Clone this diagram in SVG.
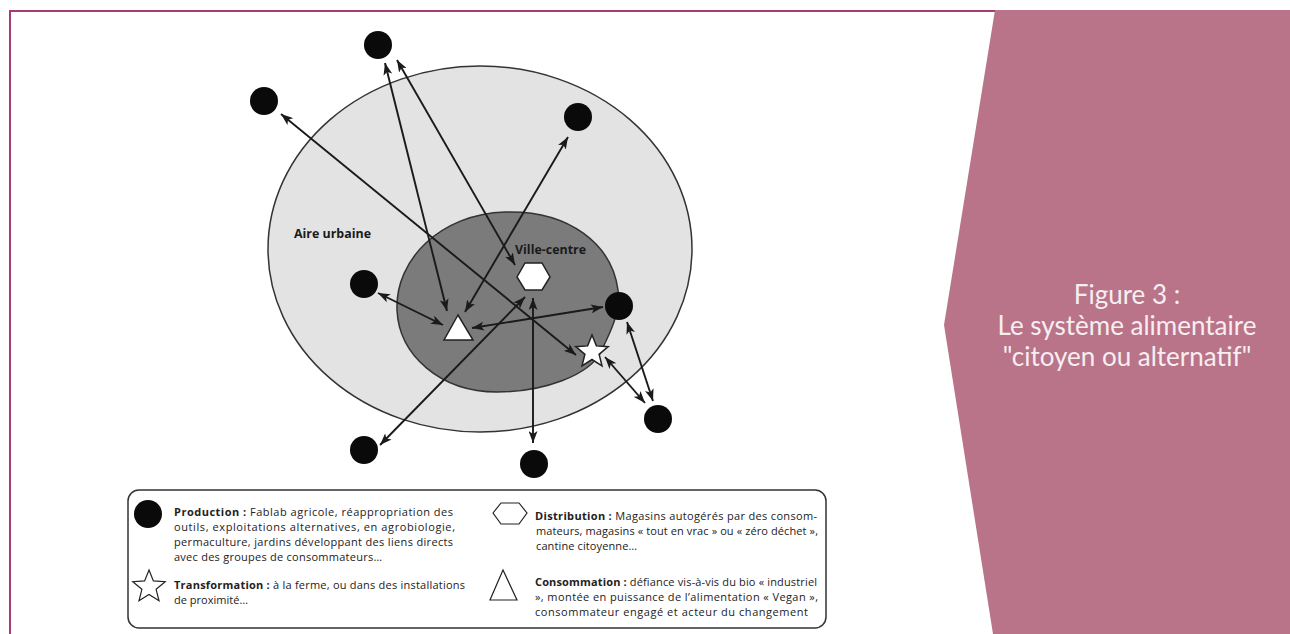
<svg xmlns="http://www.w3.org/2000/svg" xmlns:xlink="http://www.w3.org/1999/xlink" width="1290" height="634" viewBox="0 0 1290 634">
<style>
.prod{fill:#0a0a0a;}
.conn{stroke:#1a1a1a;stroke-width:1.9;fill:none;marker-start:url(#ah);marker-end:url(#ah);}
.zone{font-family:"Open Sans","Liberation Sans",sans-serif;font-weight:700;font-size:12px;fill:#1a1a1a;}
.leg{font-family:"Open Sans","Liberation Sans",sans-serif;font-size:11px;fill:#222;}
.leg .b{font-weight:700;}
.title{font-family:Lato,"Open Sans",sans-serif;font-size:26px;fill:#f7eef1;text-anchor:middle;}
.shape{fill:#fff;stroke:#222;stroke-width:1.5;}
.lshape{fill:#fff;stroke:#222;stroke-width:1.2;}
</style>
<defs>
<marker id="ah" viewBox="0 0 12 9" refX="12" refY="4.5" markerWidth="12" markerHeight="9" markerUnits="userSpaceOnUse" orient="auto-start-reverse">
<path d="M0,0 L12,4.5 L0,9 L3,4.5 Z" fill="#1a1a1a"/>
</marker>
<path id="star" d="M0,-17 L4.4,-6.1 L16.2,-5.3 L7.1,2.3 L10,13.8 L0,7.5 L-10,13.8 L-7.1,2.3 L-16.2,-5.3 L-4.4,-6.1 Z"/>
</defs>
<rect width="1290" height="634" fill="#fff"/>
<!-- frame -->
<path d="M10,634 L10,11 L996,11" fill="none" stroke="#a83b70" stroke-width="2"/>
<!-- right panel -->
<g id="title-panel">
<polygon points="995,10 1290,10 1290,634 993,634 944,325" fill="#b97489"/>
<text class="title" x="1127" y="304">Figure 3 :</text>
<text class="title" x="1127" y="335">Le système alimentaire</text>
<text class="title" x="1127" y="366">"citoyen ou alternatif"</text>
</g>
<!-- zones -->
<g id="aire-urbaine">
<ellipse cx="480" cy="249" rx="212" ry="183" fill="#e3e3e3" stroke="#333" stroke-width="1.5"/>
<text class="zone" x="294" y="238" textLength="77" lengthAdjust="spacingAndGlyphs">Aire urbaine</text>
</g>
<g id="ville-centre">
<path d="M397,310 C395,260 440,214 505,212 C570,210 612,245 618,290 C620,318 608,335 602,350 C590,376 542,392 497,392 C440,392 399,355 397,310 Z" fill="#7b7b7b" stroke="#333" stroke-width="1.5"/>
<text class="zone" x="515" y="254" textLength="71" lengthAdjust="spacingAndGlyphs">Ville-centre</text>
</g>
<!-- connectors -->
<g id="connectors">
<line class="conn" x1="385" y1="63" x2="447" y2="311"/>
<line class="conn" x1="397" y1="60" x2="515" y2="265"/>
<line class="conn" x1="281" y1="114" x2="576" y2="355"/>
<line class="conn" x1="568" y1="137" x2="465" y2="312"/>
<line class="conn" x1="378" y1="293" x2="443" y2="325"/>
<line class="conn" x1="472" y1="328" x2="603" y2="307"/>
<line class="conn" x1="525" y1="297" x2="380" y2="445"/>
<line class="conn" x1="533" y1="298" x2="533" y2="443"/>
<line class="conn" x1="605" y1="357" x2="645" y2="403"/>
<line class="conn" x1="627" y1="322" x2="653" y2="401"/>
</g>
<!-- nodes -->
<g id="prod-1"><circle class="prod" cx="378" cy="45" r="14"/></g>
<g id="prod-2"><circle class="prod" cx="264" cy="101" r="14"/></g>
<g id="prod-3"><circle class="prod" cx="578" cy="117" r="14"/></g>
<g id="prod-4"><circle class="prod" cx="364" cy="284" r="14"/></g>
<g id="prod-5"><circle class="prod" cx="619" cy="306" r="14"/></g>
<g id="prod-6"><circle class="prod" cx="658" cy="419" r="14"/></g>
<g id="prod-7"><circle class="prod" cx="364" cy="450" r="14"/></g>
<g id="prod-8"><circle class="prod" cx="534" cy="464" r="14"/></g>
<g id="consommation"><polygon class="shape" points="458,315 444,340 473,340"/></g>
<g id="distribution"><polygon class="shape" points="517,277 525,263 542,263 550,277 542,290 525,290"/></g>
<g id="transformation"><use xlink:href="#star" class="shape" x="592" y="352"/></g>
<!-- legend -->
<g id="legend">
<rect x="128" y="490" width="698" height="138" rx="11" fill="#fff" stroke="#333" stroke-width="1.5"/>
<circle class="prod" cx="148" cy="514" r="14"/>
<use xlink:href="#star" class="lshape" x="149" y="587"/>
<polygon class="lshape" points="493,513 501,503 519,503 527,513 519,524 501,524"/>
<polygon class="lshape" points="503,570 490,600 517,600"/>
<g class="leg">
<text x="174" y="516" textLength="279" lengthAdjust="spacing"><tspan class="b">Production :</tspan> Fablab agricole, réappropriation des</text>
<text x="174" y="531" textLength="281" lengthAdjust="spacing">outils, exploitations alternatives, en agrobiologie,</text>
<text x="174" y="546" textLength="279" lengthAdjust="spacing">permaculture, jardins développant des liens directs</text>
<text x="174" y="561" textLength="208" lengthAdjust="spacing">avec des groupes de consommateurs…</text>
<text x="174" y="589" textLength="291" lengthAdjust="spacing"><tspan class="b">Transformation :</tspan> à la ferme, ou dans des installations</text>
<text x="174" y="604" textLength="74" lengthAdjust="spacing">de proximité…</text>
<text x="535" y="520" textLength="282" lengthAdjust="spacing"><tspan class="b">Distribution :</tspan> Magasins autogérés par des consom-</text>
<text x="536" y="535" textLength="282" lengthAdjust="spacing">mateurs, magasins « tout en vrac » ou « zéro déchet »,</text>
<text x="536" y="550" textLength="101" lengthAdjust="spacing">cantine citoyenne…</text>
<text x="535" y="586" textLength="282" lengthAdjust="spacing"><tspan class="b">Consommation :</tspan> défiance vis-à-vis du bio « industriel</text>
<text x="535" y="601" textLength="283" lengthAdjust="spacing">», montée en puissance de l’alimentation « Vegan »,</text>
<text x="535" y="616" textLength="273" lengthAdjust="spacing">consommateur engagé et acteur du changement</text>
</g>
</g>
</svg>
